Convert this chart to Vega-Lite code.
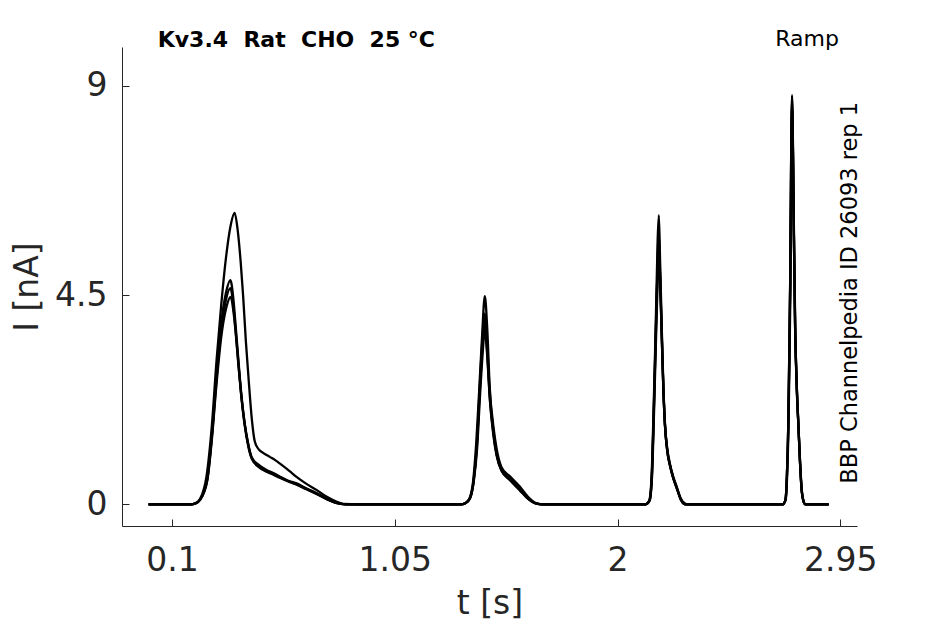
{
"$schema": "https://vega.github.io/schema/vega-lite/v6.json",
"width": 735, "height": 479,
"autosize": {"type": "none"},
"padding": {"left": 122, "top": 47, "right": 88, "bottom": 98},
"background": "white",
"config": {"view": {"stroke": null}, "font": "DejaVu Sans"},
"datasets": {
"sweeps": [
{"s":1,"t":0,"I":0},{"s":1,"t":0.18,"I":0},{"s":1,"t":0.2,"I":0.02},{"s":1,"t":0.22,"I":0.12},{"s":1,"t":0.247,"I":0.6},{"s":1,"t":0.27,"I":1.7},{"s":1,"t":0.29,"I":3.1},{"s":1,"t":0.31,"I":4.3},{"s":1,"t":0.33,"I":5.3},{"s":1,"t":0.35,"I":6.0},{"s":1,"t":0.367,"I":6.27},{"s":1,"t":0.38,"I":5.9},{"s":1,"t":0.393,"I":5.2},{"s":1,"t":0.403,"I":4.5},{"s":1,"t":0.415,"I":3.5},{"s":1,"t":0.428,"I":2.6},{"s":1,"t":0.44,"I":1.85},{"s":1,"t":0.453,"I":1.35},{"s":1,"t":0.47,"I":1.18},{"s":1,"t":0.49,"I":1.1},{"s":1,"t":0.517,"I":1.02},{"s":1,"t":0.54,"I":0.95},{"s":1,"t":0.559,"I":0.88},{"s":1,"t":0.6,"I":0.72},{"s":1,"t":0.631,"I":0.59},{"s":1,"t":0.67,"I":0.45},{"s":1,"t":0.716,"I":0.31},{"s":1,"t":0.76,"I":0.16},{"s":1,"t":0.8,"I":0.06},{"s":1,"t":0.83,"I":0.01},{"s":1,"t":0.9,"I":0},{"s":1,"t":1.33,"I":0},{"s":1,"t":1.35,"I":0.02},{"s":1,"t":1.37,"I":0.15},{"s":1,"t":1.384,"I":0.5},{"s":1,"t":1.397,"I":1.3},{"s":1,"t":1.41,"I":2.46},{"s":1,"t":1.422,"I":3.6},{"s":1,"t":1.434,"I":4.48},{"s":1,"t":1.444,"I":3.8},{"s":1,"t":1.455,"I":2.5},{"s":1,"t":1.47,"I":1.7},{"s":1,"t":1.484,"I":1.2},{"s":1,"t":1.505,"I":0.8},{"s":1,"t":1.541,"I":0.6},{"s":1,"t":1.583,"I":0.38},{"s":1,"t":1.62,"I":0.15},{"s":1,"t":1.65,"I":0.03},{"s":1,"t":1.68,"I":0},{"s":1,"t":2.12,"I":0},{"s":1,"t":2.135,"I":0.08},{"s":1,"t":2.145,"I":0.6},{"s":1,"t":2.152,"I":1.74},{"s":1,"t":2.16,"I":3.3},{"s":1,"t":2.166,"I":4.61},{"s":1,"t":2.171,"I":5.7},{"s":1,"t":2.176,"I":6.22},{"s":1,"t":2.181,"I":5.3},{"s":1,"t":2.188,"I":3.89},{"s":1,"t":2.195,"I":2.6},{"s":1,"t":2.202,"I":1.74},{"s":1,"t":2.212,"I":1.2},{"s":1,"t":2.223,"I":0.88},{"s":1,"t":2.237,"I":0.6},{"s":1,"t":2.252,"I":0.38},{"s":1,"t":2.27,"I":0.12},{"s":1,"t":2.29,"I":0.01},{"s":1,"t":2.3,"I":0},{"s":1,"t":2.705,"I":0},{"s":1,"t":2.716,"I":0.1},{"s":1,"t":2.722,"I":0.6},{"s":1,"t":2.728,"I":1.74},{"s":1,"t":2.732,"I":3.2},{"s":1,"t":2.736,"I":4.8},{"s":1,"t":2.74,"I":7.4},{"s":1,"t":2.744,"I":8.8},{"s":1,"t":2.748,"I":7.6},{"s":1,"t":2.752,"I":5.8},{"s":1,"t":2.757,"I":3.89},{"s":1,"t":2.764,"I":2.6},{"s":1,"t":2.771,"I":1.74},{"s":1,"t":2.778,"I":0.9},{"s":1,"t":2.785,"I":0.31},{"s":1,"t":2.792,"I":0.08},{"s":1,"t":2.8,"I":0},{"s":1,"t":2.9,"I":0},

{"s":2,"t":0,"I":0},{"s":2,"t":0.18,"I":0},{"s":2,"t":0.2,"I":0.02},{"s":2,"t":0.22,"I":0.1},{"s":2,"t":0.25,"I":0.55},{"s":2,"t":0.27,"I":1.5},{"s":2,"t":0.29,"I":2.8},{"s":2,"t":0.31,"I":3.9},{"s":2,"t":0.33,"I":4.55},{"s":2,"t":0.349,"I":4.82},{"s":2,"t":0.362,"I":4.4},{"s":2,"t":0.372,"I":3.8},{"s":2,"t":0.382,"I":3.17},{"s":2,"t":0.395,"I":2.4},{"s":2,"t":0.41,"I":1.74},{"s":2,"t":0.425,"I":1.3},{"s":2,"t":0.439,"I":1.02},{"s":2,"t":0.47,"I":0.85},{"s":2,"t":0.503,"I":0.74},{"s":2,"t":0.53,"I":0.68},{"s":2,"t":0.559,"I":0.6},{"s":2,"t":0.6,"I":0.5},{"s":2,"t":0.631,"I":0.45},{"s":2,"t":0.67,"I":0.35},{"s":2,"t":0.716,"I":0.24},{"s":2,"t":0.76,"I":0.12},{"s":2,"t":0.8,"I":0.03},{"s":2,"t":0.84,"I":0},{"s":2,"t":1.33,"I":0},{"s":2,"t":1.352,"I":0.03},{"s":2,"t":1.37,"I":0.13},{"s":2,"t":1.386,"I":0.5},{"s":2,"t":1.4,"I":1.3},{"s":2,"t":1.412,"I":2.5},{"s":2,"t":1.423,"I":3.5},{"s":2,"t":1.433,"I":4.1},{"s":2,"t":1.443,"I":3.5},{"s":2,"t":1.455,"I":2.4},{"s":2,"t":1.47,"I":1.6},{"s":2,"t":1.484,"I":1.1},{"s":2,"t":1.505,"I":0.74},{"s":2,"t":1.541,"I":0.55},{"s":2,"t":1.583,"I":0.33},{"s":2,"t":1.62,"I":0.12},{"s":2,"t":1.65,"I":0.02},{"s":2,"t":1.68,"I":0},{"s":2,"t":2.12,"I":0},{"s":2,"t":2.136,"I":0.08},{"s":2,"t":2.146,"I":0.6},{"s":2,"t":2.153,"I":1.74},{"s":2,"t":2.161,"I":3.3},{"s":2,"t":2.167,"I":4.5},{"s":2,"t":2.172,"I":5.3},{"s":2,"t":2.176,"I":5.6},{"s":2,"t":2.181,"I":4.9},{"s":2,"t":2.188,"I":3.7},{"s":2,"t":2.195,"I":2.5},{"s":2,"t":2.202,"I":1.7},{"s":2,"t":2.212,"I":1.15},{"s":2,"t":2.223,"I":0.85},{"s":2,"t":2.237,"I":0.58},{"s":2,"t":2.252,"I":0.36},{"s":2,"t":2.27,"I":0.1},{"s":2,"t":2.29,"I":0},{"s":2,"t":2.705,"I":0},{"s":2,"t":2.716,"I":0.1},{"s":2,"t":2.722,"I":0.6},{"s":2,"t":2.728,"I":1.7},{"s":2,"t":2.732,"I":3.1},{"s":2,"t":2.736,"I":4.7},{"s":2,"t":2.74,"I":7.2},{"s":2,"t":2.744,"I":8.6},{"s":2,"t":2.748,"I":7.5},{"s":2,"t":2.752,"I":5.7},{"s":2,"t":2.757,"I":3.8},{"s":2,"t":2.764,"I":2.5},{"s":2,"t":2.771,"I":1.7},{"s":2,"t":2.778,"I":0.9},{"s":2,"t":2.785,"I":0.3},{"s":2,"t":2.792,"I":0.08},{"s":2,"t":2.8,"I":0},{"s":2,"t":2.9,"I":0},

{"s":3,"t":0,"I":0},{"s":3,"t":0.18,"I":0},{"s":3,"t":0.2,"I":0.02},{"s":3,"t":0.22,"I":0.1},{"s":3,"t":0.25,"I":0.5},{"s":3,"t":0.27,"I":1.4},{"s":3,"t":0.29,"I":2.6},{"s":3,"t":0.31,"I":3.6},{"s":3,"t":0.33,"I":4.2},{"s":3,"t":0.35,"I":4.46},{"s":3,"t":0.363,"I":4.1},{"s":3,"t":0.373,"I":3.6},{"s":3,"t":0.383,"I":3.0},{"s":3,"t":0.396,"I":2.3},{"s":3,"t":0.41,"I":1.7},{"s":3,"t":0.425,"I":1.25},{"s":3,"t":0.44,"I":0.98},{"s":3,"t":0.47,"I":0.8},{"s":3,"t":0.503,"I":0.7},{"s":3,"t":0.53,"I":0.64},{"s":3,"t":0.559,"I":0.57},{"s":3,"t":0.6,"I":0.48},{"s":3,"t":0.631,"I":0.42},{"s":3,"t":0.67,"I":0.33},{"s":3,"t":0.716,"I":0.22},{"s":3,"t":0.76,"I":0.11},{"s":3,"t":0.8,"I":0.03},{"s":3,"t":0.84,"I":0},{"s":3,"t":1.33,"I":0},{"s":3,"t":1.352,"I":0.03},{"s":3,"t":1.37,"I":0.12},{"s":3,"t":1.387,"I":0.5},{"s":3,"t":1.401,"I":1.2},{"s":3,"t":1.413,"I":2.3},{"s":3,"t":1.424,"I":3.2},{"s":3,"t":1.434,"I":3.75},{"s":3,"t":1.444,"I":3.2},{"s":3,"t":1.456,"I":2.2},{"s":3,"t":1.47,"I":1.5},{"s":3,"t":1.484,"I":1.05},{"s":3,"t":1.505,"I":0.72},{"s":3,"t":1.541,"I":0.52},{"s":3,"t":1.583,"I":0.3},{"s":3,"t":1.62,"I":0.11},{"s":3,"t":1.65,"I":0.02},{"s":3,"t":1.68,"I":0},{"s":3,"t":2.12,"I":0},{"s":3,"t":2.137,"I":0.08},{"s":3,"t":2.147,"I":0.6},{"s":3,"t":2.154,"I":1.7},{"s":3,"t":2.162,"I":3.2},{"s":3,"t":2.168,"I":4.3},{"s":3,"t":2.173,"I":5.1},{"s":3,"t":2.177,"I":5.45},{"s":3,"t":2.182,"I":4.7},{"s":3,"t":2.189,"I":3.5},{"s":3,"t":2.196,"I":2.4},{"s":3,"t":2.203,"I":1.65},{"s":3,"t":2.213,"I":1.1},{"s":3,"t":2.224,"I":0.82},{"s":3,"t":2.238,"I":0.55},{"s":3,"t":2.253,"I":0.34},{"s":3,"t":2.27,"I":0.1},{"s":3,"t":2.29,"I":0},{"s":3,"t":2.705,"I":0},{"s":3,"t":2.717,"I":0.1},{"s":3,"t":2.723,"I":0.6},{"s":3,"t":2.729,"I":1.7},{"s":3,"t":2.733,"I":3.1},{"s":3,"t":2.737,"I":4.6},{"s":3,"t":2.741,"I":7.0},{"s":3,"t":2.745,"I":8.5},{"s":3,"t":2.749,"I":7.3},{"s":3,"t":2.753,"I":5.5},{"s":3,"t":2.758,"I":3.7},{"s":3,"t":2.765,"I":2.4},{"s":3,"t":2.772,"I":1.6},{"s":3,"t":2.779,"I":0.85},{"s":3,"t":2.786,"I":0.28},{"s":3,"t":2.793,"I":0.07},{"s":3,"t":2.8,"I":0},{"s":3,"t":2.9,"I":0},

{"s":4,"t":0,"I":0},{"s":4,"t":0.18,"I":0},{"s":4,"t":0.2,"I":0.02},{"s":4,"t":0.22,"I":0.1},{"s":4,"t":0.25,"I":0.52},{"s":4,"t":0.27,"I":1.45},{"s":4,"t":0.29,"I":2.7},{"s":4,"t":0.31,"I":3.75},{"s":4,"t":0.33,"I":4.4},{"s":4,"t":0.349,"I":4.65},{"s":4,"t":0.362,"I":4.25},{"s":4,"t":0.372,"I":3.7},{"s":4,"t":0.382,"I":3.1},{"s":4,"t":0.395,"I":2.35},{"s":4,"t":0.41,"I":1.72},{"s":4,"t":0.425,"I":1.28},{"s":4,"t":0.44,"I":1.0},{"s":4,"t":0.47,"I":0.82},{"s":4,"t":0.503,"I":0.72},{"s":4,"t":0.53,"I":0.66},{"s":4,"t":0.559,"I":0.58},{"s":4,"t":0.6,"I":0.49},{"s":4,"t":0.631,"I":0.43},{"s":4,"t":0.67,"I":0.34},{"s":4,"t":0.716,"I":0.23},{"s":4,"t":0.76,"I":0.11},{"s":4,"t":0.8,"I":0.03},{"s":4,"t":0.84,"I":0},{"s":4,"t":1.33,"I":0},{"s":4,"t":1.352,"I":0.03},{"s":4,"t":1.37,"I":0.12},{"s":4,"t":1.386,"I":0.5},{"s":4,"t":1.4,"I":1.25},{"s":4,"t":1.412,"I":2.4},{"s":4,"t":1.423,"I":3.35},{"s":4,"t":1.433,"I":3.95},{"s":4,"t":1.443,"I":3.35},{"s":4,"t":1.455,"I":2.3},{"s":4,"t":1.47,"I":1.55},{"s":4,"t":1.484,"I":1.08},{"s":4,"t":1.505,"I":0.73},{"s":4,"t":1.541,"I":0.53},{"s":4,"t":1.583,"I":0.31},{"s":4,"t":1.62,"I":0.11},{"s":4,"t":1.65,"I":0.02},{"s":4,"t":1.68,"I":0},{"s":4,"t":2.12,"I":0},{"s":4,"t":2.136,"I":0.08},{"s":4,"t":2.146,"I":0.6},{"s":4,"t":2.153,"I":1.72},{"s":4,"t":2.161,"I":3.25},{"s":4,"t":2.167,"I":4.4},{"s":4,"t":2.172,"I":5.5},{"s":4,"t":2.176,"I":5.85},{"s":4,"t":2.181,"I":5.0},{"s":4,"t":2.188,"I":3.75},{"s":4,"t":2.195,"I":2.5},{"s":4,"t":2.202,"I":1.7},{"s":4,"t":2.212,"I":1.15},{"s":4,"t":2.223,"I":0.85},{"s":4,"t":2.237,"I":0.57},{"s":4,"t":2.252,"I":0.35},{"s":4,"t":2.27,"I":0.1},{"s":4,"t":2.29,"I":0},{"s":4,"t":2.705,"I":0},{"s":4,"t":2.716,"I":0.1},{"s":4,"t":2.722,"I":0.6},{"s":4,"t":2.728,"I":1.72},{"s":4,"t":2.732,"I":3.15},{"s":4,"t":2.736,"I":4.75},{"s":4,"t":2.74,"I":7.3},{"s":4,"t":2.744,"I":8.7},{"s":4,"t":2.748,"I":7.5},{"s":4,"t":2.752,"I":5.75},{"s":4,"t":2.757,"I":3.85},{"s":4,"t":2.764,"I":2.55},{"s":4,"t":2.771,"I":1.72},{"s":4,"t":2.778,"I":0.9},{"s":4,"t":2.785,"I":0.3},{"s":4,"t":2.792,"I":0.08},{"s":4,"t":2.8,"I":0},{"s":4,"t":2.9,"I":0}
]
},
"layer": [
{
"data": {"name": "sweeps"},
"mark": {"type": "line", "interpolate": "monotone", "color": "black", "strokeWidth": 2.3},
"encoding": {
"x": {"field": "t", "type": "quantitative",
"scale": {"domain": [-0.1133, 3.021], "nice": false, "zero": false},
"axis": {"values": [0.1, 1.05, 2, 2.95], "format": ".3~g", "title": "t [s]", "grid": false,
"domainColor": "#262626", "domainWidth": 1, "tickColor": "#262626", "tickSize": -7, "tickWidth": 1,
"labelFontSize": 33, "labelFont": "DejaVu Sans", "labelColor": "#262626", "labelPadding": 25,
"titleFontSize": 33, "titleFont": "DejaVu Sans", "titleFontWeight": "normal", "titleColor": "#262626", "titlePadding": 10}},
"y": {"field": "I", "type": "quantitative",
"scale": {"domain": [-0.467, 9.838], "nice": false, "zero": false},
"axis": {"values": [0, 4.5, 9], "format": ".3~g", "title": "I [nA]", "grid": false,
"domainColor": "#262626", "domainWidth": 1, "tickColor": "#262626", "tickSize": -7, "tickWidth": 1,
"labelFontSize": 33, "labelFont": "DejaVu Sans", "labelColor": "#262626", "labelPadding": 22,
"titleFontSize": 33, "titleFont": "DejaVu Sans", "titleFontWeight": "normal", "titleColor": "#262626", "titlePadding": 10}},
"detail": {"field": "s", "type": "nominal"}
}
},
{
"data": {"values": [{"label": "Kv3.4\u00a0\u00a0Rat\u00a0\u00a0CHO\u00a0\u00a025\u00a0°C", "t": 0.039, "I": 9.83}]},
"mark": {"type": "text", "font": "DejaVu Sans", "fontSize": 22, "fontWeight": "bold", "color": "black", "align": "left", "baseline": "alphabetic", "clip": false},
"encoding": {"x": {"field": "t", "type": "quantitative"}, "y": {"field": "I", "type": "quantitative"}, "text": {"field": "label"}}
},
{
"data": {"values": [{"label": "Ramp", "t": 2.808, "I": 9.86}]},
"mark": {"type": "text", "font": "DejaVu Sans", "fontSize": 22, "color": "black", "align": "center", "baseline": "alphabetic", "clip": false},
"encoding": {"x": {"field": "t", "type": "quantitative"}, "y": {"field": "I", "type": "quantitative"}, "text": {"field": "label"}}
},
{
"data": {"values": [{"label": "BBP Channelpedia ID 26093 rep 1", "t": 2.991, "I": 4.55}]},
"mark": {"type": "text", "font": "DejaVu Sans", "fontSize": 22.5, "color": "black", "align": "center", "baseline": "middle", "angle": 270, "clip": false},
"encoding": {"x": {"field": "t", "type": "quantitative"}, "y": {"field": "I", "type": "quantitative"}, "text": {"field": "label"}}
}
]
}
